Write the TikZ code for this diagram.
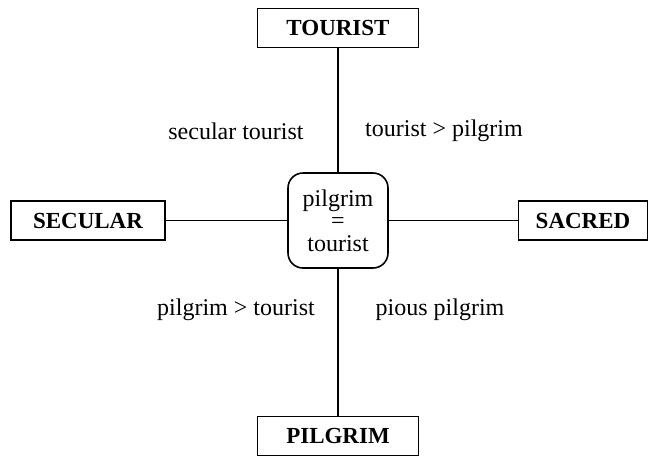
\documentclass[tikz,border=0pt]{standalone}
\usepackage{fontspec}
\setmainfont{Liberation Serif}
\usepackage{tikz}

\begin{document}
\begin{tikzpicture}[x=0.5pt,y=-0.5pt,thick,
   pole/.style={draw,rectangle,minimum height=19.5pt,inner sep=0pt,font=\rmfamily\fontsize{11.5}{13}\selectfont\bfseries},
   centre box/.style={draw,rectangle,rounded corners=7.5pt,minimum width=50pt,minimum height=47.5pt,inner sep=0pt,align=center,font=\rmfamily\fontsize{12}{11.3}\selectfont},
   quadrant/.style={font=\rmfamily\fontsize{12}{14}\selectfont}]

  \useasboundingbox (0,0) rectangle (651,456);

  \node[centre box] (c) at (338,220.5) {pilgrim\\=\\tourist};
  \node[pole,minimum width=80.5pt] (t) at (338,28) {TOURIST};
  \node[pole,minimum width=77pt] (sec) at (88,220.5) {SECULAR};
  \node[pole,minimum width=64.5pt] (sac) at (583,220.5) {SACRED};
  \node[pole,minimum width=80.5pt] (p) at (338,436) {PILGRIM};

  \node[quadrant] (st) at (236,131) {secular tourist};
  \node[quadrant] (tp) at (444,131) {tourist > pilgrim};
  \node[quadrant] (pt) at (236,310) {pilgrim > tourist};
  \node[quadrant] (pp) at (440,310) {pious pilgrim};

  \foreach \from/\to in {t/c,p/c,sec/c,sac/c} \draw (\from) -- (\to);
\end{tikzpicture}
\end{document}
